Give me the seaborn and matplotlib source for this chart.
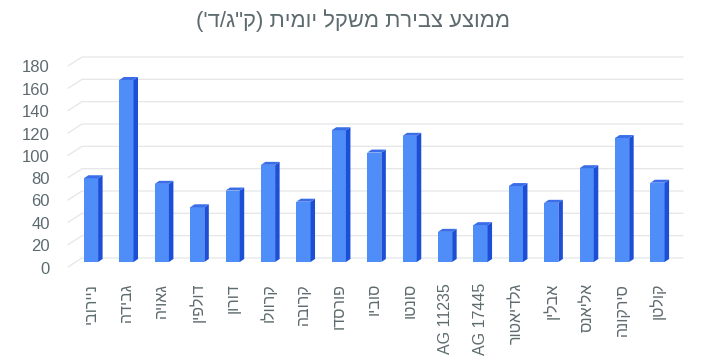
import matplotlib
matplotlib.use("Agg")
import matplotlib.pyplot as plt
import matplotlib.transforms as mtransforms
from matplotlib.patches import Polygon
import seaborn as sns
import pandas as pd

# נתונים
title = "ממוצע צבירת משקל יומית (ק\"ג/ד')"
varieties = ["ניירובי", "גבידה", "גאויה", "דולפין", "דורון", "קרוולו", "קרובה",
             "פורסדו", "סוביו", "סונטו", "AG 11235", "AG 17445", "גלדיאטור",
             "אבלין", "אליאנס", "סירקונה", "קולטן"]
gain = [75, 163, 70, 49, 64, 87, 54, 118, 98, 113, 27, 33, 68, 53, 84, 111, 71]
y_ticks = [0, 20, 40, 60, 80, 100, 120, 140, 160, 180]


def visual(s):
    # matplotlib לא מטפל ב-RTL: הופכים סדר ומחליפים סוגריים
    if not any("\u0590" <= c <= "\u05ff" for c in s):
        return s
    r = s[::-1]
    return r.translate(str.maketrans("()", ")("))


df = pd.DataFrame({"name": [visual(v) for v in varieties], "gain": gain})

sns.set_style("white")
plt.rcParams["font.family"] = ["Liberation Sans", "DejaVu Sans"]

text_color = "#5d6b6e"
front_color = "#4f8ef8"
side_color = "#1c4fd6"
top_color = "#3a6ee8"
grid_color = "#e4e6e8"

fig = plt.figure(figsize=(7.07, 3.63), dpi=100)
ax = fig.add_axes([68 / 707, 101 / 363, 615 / 707, 201 / 363])

sns.barplot(data=df, x="name", y="gain", color=front_color, saturation=1,
            width=0.4, ax=ax, zorder=3)

ax.set_xlim(-0.65, 16.72)
ax.set_ylim(0, 180)

# עומק תלת-ממדי (ביחידות נתונים)
px_x = 615 / (16.72 + 0.65)
px_y = 201 / 180
dx = 4.5 / px_x
dy = 3.0 / px_y

for p in list(ax.patches):
    x0 = p.get_x()
    x1 = x0 + p.get_width()
    h = p.get_height()
    p.set_edgecolor("none")
    side = Polygon([(x1, 0), (x1 + dx, dy), (x1 + dx, h + dy), (x1, h)],
                   closed=True, facecolor=side_color, edgecolor="none", zorder=3)
    top = Polygon([(x0, h), (x0 + dx, h + dy), (x1 + dx, h + dy), (x1, h)],
                  closed=True, facecolor=top_color, edgecolor="none", zorder=3)
    ax.add_patch(side)
    ax.add_patch(top)

# קווי רשת עם שיפוע בצד שמאל
slant_w = 14 / 615
back_up = 4 / px_y
front_down = 5 / px_y
trans = ax.get_yaxis_transform()
for v in y_ticks:
    ax.plot([0, slant_w, 1], [v - front_down, v + back_up, v + back_up],
            transform=trans, color=grid_color, lw=0.9, clip_on=False, zorder=0)

for s in ax.spines.values():
    s.set_visible(False)

ax.set_yticks(y_ticks)
ax.tick_params(axis="y", length=0, pad=13, labelsize=12, labelcolor=text_color)
ax.tick_params(axis="x", length=0, pad=15, labelsize=11.5, labelcolor=text_color)
ax.set_xticks(range(len(varieties)))
ax.set_xticklabels(df["name"], rotation=90, va="top", ha="center")
ax.set_xlabel("")
ax.set_ylabel("")

shift = mtransforms.ScaledTranslation(0, -0.055, fig.dpi_scale_trans)
for lab in ax.get_yticklabels():
    lab.set_transform(lab.get_transform() + shift)

fig.text(353 / 707, 1 - 21 / 363, visual(title), ha="center", va="center",
         fontsize=15.8, color=text_color)

fig.savefig("out.png", dpi=100)
